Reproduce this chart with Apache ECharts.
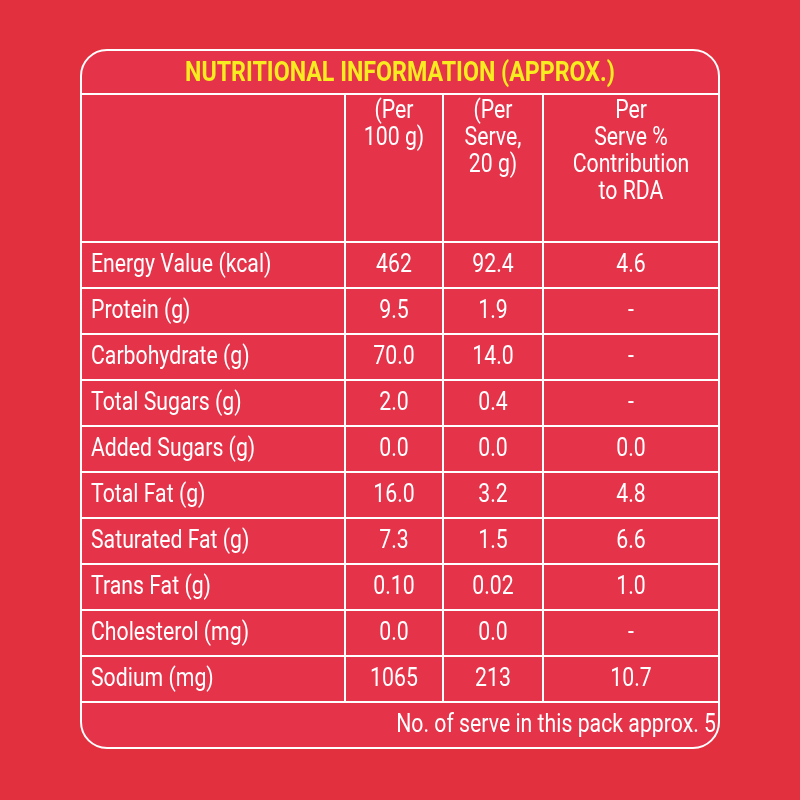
<!DOCTYPE html>
<html><head><meta charset="utf-8">
<script src="https://cdn.jsdelivr.net/npm/echarts@6/dist/echarts.min.js"></script>
<style>html,body{margin:0;padding:0;background:#e3303f}#c{width:800px;height:800px}</style>
</head><body><div id="c"></div>
<script>
var title = 'NUTRITIONAL INFORMATION (APPROX.)';
var headers = ['', '(Per\n100 g)', '(Per\nServe,\n20 g)', 'Per\nServe %\nContribution\nto RDA'];
var nutrients = ['Energy Value (kcal)', 'Protein (g)', 'Carbohydrate (g)', 'Total Sugars (g)', 'Added Sugars (g)',
  'Total Fat (g)', 'Saturated Fat (g)', 'Trans Fat (g)', 'Cholesterol (mg)', 'Sodium (mg)'];
var per100 = ['462', '9.5', '70.0', '2.0', '0.0', '16.0', '7.3', '0.10', '0.0', '1065'];
var perServe = ['92.4', '1.9', '14.0', '0.4', '0.0', '3.2', '1.5', '0.02', '0.0', '213'];
var rda = ['4.6', '-', '-', '-', '0.0', '4.8', '6.6', '1.0', '-', '10.7'];
var footer = 'No. of serve in this pack approx. 5';

var font = 'Roboto, sans-serif';
var colX = [81, 345, 443, 543, 719];
var topY = 50, titleBot = 94, headBot = 242, rowH = 46;
var bottomY = headBot + rowH * (nutrients.length + 1);
var line = { stroke: '#fff', lineWidth: 2 };
var g = [];
function hl(y) { g.push({ type: 'line', shape: { x1: colX[0], y1: y, x2: colX[4], y2: y }, style: line }); }
function vl(x, y1, y2) { g.push({ type: 'line', shape: { x1: x, y1: y1, x2: x, y2: y2 }, style: line }); }
function txt(s, x, y, align, extra, sx) {
  var st = { text: s, x: 0, y: 0, align: align, verticalAlign: 'middle', fill: '#fff', font: '25px ' + font, lineHeight: 27 };
  for (var k in extra) st[k] = extra[k];
  g.push({ type: 'text', x: x, y: y, scaleX: sx || 0.85, style: st });
}
// outer panel
g.push({ type: 'rect', shape: { x: colX[0], y: topY, width: colX[4] - colX[0], height: bottomY - topY, r: 26 },
  style: { fill: '#e5334a', stroke: '#fff', lineWidth: 2 } });
hl(titleBot); hl(headBot);
for (var i = 1; i <= nutrients.length; i++) hl(headBot + rowH * i);
for (var j = 1; j < 4; j++) vl(colX[j], titleBot, headBot + rowH * nutrients.length);
txt(title, 400, (topY + titleBot) / 2 + 2, 'center', { fill: '#f7ec1f', font: 'bold 27px ' + font }, 0.86);
for (var h = 1; h < 4; h++) {
  txt(headers[h], (colX[h] + colX[h + 1]) / 2, titleBot + 4, 'center', { verticalAlign: 'top', lineHeight: 27 });
}
var cols = [per100, perServe, rda];
nutrients.forEach(function (n, r) {
  var y = headBot + rowH * r + rowH / 2 + 1;
  txt(n, colX[0] + 10, y, 'left');
  cols.forEach(function (c, k) { txt(c[r], (colX[k + 1] + colX[k + 2]) / 2, y, 'center'); });
});
txt(footer, colX[4] - 3, bottomY - rowH / 2 + 1, 'right');

var chart = echarts.init(document.getElementById('c'));
chart.setOption({ animation: false, backgroundColor: '#e3303f', graphic: { elements: g } });
</script></body></html>
